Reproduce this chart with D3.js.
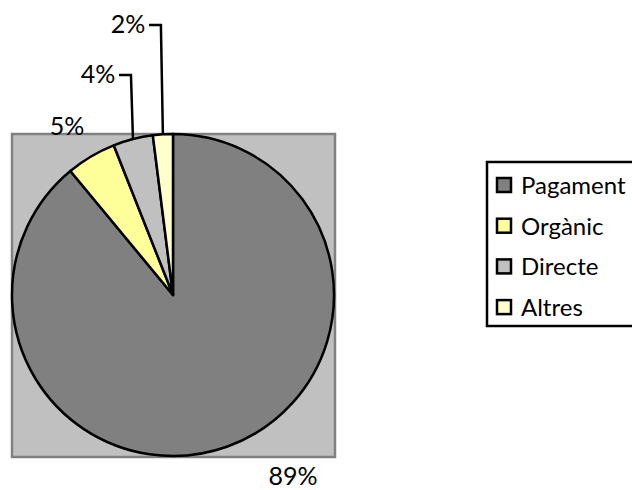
<!DOCTYPE html>
<html>
<head>
<meta charset="utf-8">
<script src="https://cdn.jsdelivr.net/npm/d3@7"></script>
<style>
  body { margin: 0; background: #fff; }
  svg { display: block; }
  text { font-family: Lato, "Open Sans", sans-serif; fill: #000; }
</style>
</head>
<body>
<svg id="chart"></svg>
<script>
// chart data
var categories = ["Pagament", "Orgànic", "Directe", "Altres"];
var values = [89, 5, 4, 2];
var labels = ["89%", "5%", "4%", "2%"];
var colors = ["#808080", "#ffff99", "#c0c0c0", "#ffffcc"];

var width = 632,
    height = 490;

var cx = 173, cy = 295, r = 161;

// label offsets from the pie centre (text centre, baseline)
var labelPos = [[120, 190], [-106, -160], [-75, -212], [-45, -262]];

var svg = d3.select("#chart")
    .attr("width", width)
    .attr("height", height);

// plot area
svg.append("rect")
    .attr("x", cx - r)
    .attr("y", cy - r)
    .attr("width", 2 * r + 1)
    .attr("height", 2 * r + 1)
    .attr("fill", "#c0c0c0")
    .attr("stroke", "#808080")
    .attr("stroke-width", 2.5);

var pie = d3.pie().sort(null).value(function(d){ return d; });
var arcs = pie(values);
var arc = d3.arc().innerRadius(0).outerRadius(r);

var g = svg.append("g").attr("transform", "translate(" + cx + "," + cy + ")");

g.selectAll("path")
  .data(arcs)
  .enter()
  .append("path")
    .attr("d", arc)
    .attr("fill", function(d, i){ return colors[i]; })
    .attr("stroke", "#000")
    .attr("stroke-width", 2.5)
    .attr("stroke-linejoin", "round");

// labels
g.selectAll("text.lbl")
  .data(arcs)
  .enter()
  .append("text")
    .attr("class", "lbl")
    .attr("x", function(d, i){ return labelPos[i][0]; })
    .attr("y", function(d, i){ return labelPos[i][1]; })
    .attr("text-anchor", "middle")
    .style("font-size", "25px")
    .text(function(d, i){ return labels[i]; });

// leader lines for the two small slices
[2, 3].forEach(function(i){
  var a = (arcs[i].startAngle + arcs[i].endAngle) / 2;
  var ex = r * Math.sin(a), ey = -r * Math.cos(a);
  var ly = labelPos[i][1] - 8;
  var lx = labelPos[i][0] + 21;
  var elbow = ex - 2;
  g.append("path")
    .attr("d", "M" + lx + "," + ly + "H" + elbow + "L" + ex + "," + ey)
    .attr("fill", "none")
    .attr("stroke", "#000")
    .attr("stroke-width", 2.5);
});

// legend
var legend = svg.append("g").attr("transform", "translate(487,162)");
legend.append("rect")
    .attr("x", 0)
    .attr("y", 0)
    .attr("width", 160)
    .attr("height", 164)
    .attr("fill", "#fff")
    .attr("stroke", "#000")
    .attr("stroke-width", 2.5);

var item = legend.selectAll("g.item")
  .data(categories)
  .enter()
  .append("g")
    .attr("class", "item")
    .attr("transform", function(d, i){ return "translate(0," + (23 + i * 40.7) + ")"; });

item.append("rect")
    .attr("x", 10)
    .attr("y", -7)
    .attr("width", 14)
    .attr("height", 14)
    .attr("fill", function(d, i){ return colors[i]; })
    .attr("stroke", "#000")
    .attr("stroke-width", 2.5);

item.append("text")
    .attr("x", 34)
    .attr("y", 9)
    .style("font-size", "24px")
    .text(function(d){ return d; });
</script>
</body>
</html>
